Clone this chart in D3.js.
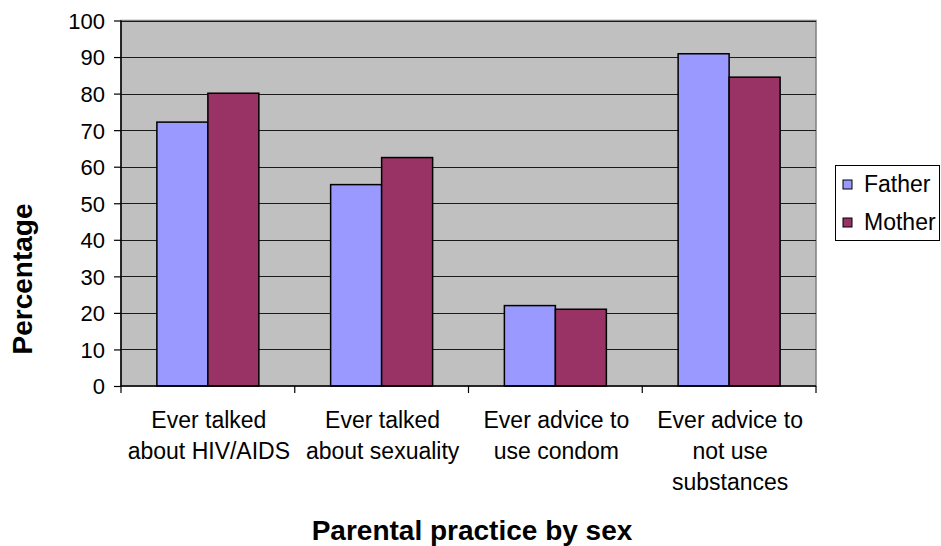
<!DOCTYPE html>
<html>
<head>
<meta charset="utf-8">
<script src="https://cdn.jsdelivr.net/npm/d3@7"></script>
<style>
  html, body { margin: 0; padding: 0; background: #fff; }
  svg { display: block; font-family: "Liberation Sans", Arial, sans-serif; }
</style>
</head>
<body>
<svg id="chart" width="941" height="546"></svg>
<script>
const categories = [
  ["Ever talked", "about HIV/AIDS"],
  ["Ever talked", "about sexuality"],
  ["Ever advice to", "use condom"],
  ["Ever advice to", "not use", "substances"]
];
const seriesNames = ["Father", "Mother"];
const fatherValues = [72.2, 55.1, 22.0, 90.9];
const motherValues = [80.1, 62.5, 21.0, 84.5];
const yTicks = [0, 10, 20, 30, 40, 50, 60, 70, 80, 90, 100];
const colors = ["#9999FF", "#993366"];
const xTitle = "Parental practice by sex";
const yTitle = "Percentage";

const svg = d3.select("#chart");
const plot = { left: 121, right: 816, top: 20.5, bottom: 386 };

const catIdx = categories.map((d, i) => i);
const x0 = d3.scaleBand().domain(catIdx).range([plot.left, plot.right]).padding(0);
const bw = x0.bandwidth();
const half = bw * 0.2935;
const x1 = d3.scaleBand().domain(seriesNames).range([bw / 2 - half, bw / 2 + half]).padding(0);
const y = d3.scaleLinear().domain([0, 100]).range([plot.bottom, plot.top]);

// plot background
svg.append("rect")
  .attr("x", plot.left).attr("y", plot.top)
  .attr("width", plot.right - plot.left).attr("height", plot.bottom - plot.top)
  .attr("fill", "#C0C0C0").attr("stroke", "#808080").attr("stroke-width", 1.5);

// gridlines
svg.append("g").selectAll("line").data(yTicks.filter(t => t > 0)).join("line")
  .attr("x1", plot.left).attr("x2", plot.right)
  .attr("y1", d => Math.round(y(d)) + 0.5).attr("y2", d => Math.round(y(d)) + 0.5)
  .attr("stroke", "#1a1a1a").attr("stroke-width", 1.2);

// bars
const data = catIdx.map(i => ({ i, vals: [fatherValues[i], motherValues[i]] }));
const groups = svg.append("g").selectAll("g").data(data).join("g")
  .attr("transform", d => `translate(${x0(d.i)},0)`);
groups.selectAll("rect").data(d => d.vals.map((v, k) => ({ v, k }))).join("rect")
  .attr("x", d => x1(seriesNames[d.k]))
  .attr("y", d => y(d.v))
  .attr("width", x1.bandwidth())
  .attr("height", d => y(0) - y(d.v))
  .attr("fill", d => colors[d.k])
  .attr("stroke", "#000").attr("stroke-width", 1.5);

// y axis
const yAxis = d3.axisLeft(y).tickValues(yTicks).tickSize(7).tickPadding(9).tickFormat(d3.format("d"));
const gy = svg.append("g").attr("transform", `translate(${plot.left},0)`).call(yAxis);
gy.select(".domain").attr("stroke", "#000").attr("stroke-width", 1.5).attr("d", `M0,${plot.top}V${plot.bottom}`);
gy.selectAll(".tick line").attr("stroke", "#000").attr("stroke-width", 1.2);
gy.selectAll(".tick text").attr("font-size", 22).attr("fill", "#000")
  .attr("font-family", "Liberation Sans, Arial, sans-serif").attr("dy", "0.36em");

// x axis
const gx = svg.append("g").attr("transform", `translate(0,${plot.bottom})`);
gx.append("line").attr("x1", plot.left).attr("x2", plot.right).attr("y1", 0).attr("y2", 0)
  .attr("stroke", "#000").attr("stroke-width", 1.5);
const boundaries = catIdx.map(i => x0(i)).concat([plot.right]);
gx.selectAll("line.tk").data(boundaries).join("line").attr("class", "tk")
  .attr("x1", d => d).attr("x2", d => d).attr("y1", 0).attr("y2", 7)
  .attr("stroke", "#000").attr("stroke-width", 1.2);

// category labels
const lab = svg.append("g").selectAll("text").data(data).join("text")
  .attr("x", d => x0(d.i) + bw / 2 + 1)
  .attr("y", 428)
  .attr("text-anchor", "middle")
  .attr("font-size", 23).attr("fill", "#000");
lab.selectAll("tspan").data(d => categories[d.i]).join("tspan")
  .attr("x", function() { return this.parentNode.getAttribute("x"); })
  .attr("dy", (d, j) => j === 0 ? 0 : 31)
  .text(d => d);

// axis titles
svg.append("text").attr("x", 472).attr("y", 540).attr("text-anchor", "middle")
  .attr("font-size", 28).attr("font-weight", "bold").attr("fill", "#000").text(xTitle);
svg.append("text").attr("transform", "translate(32,279) rotate(-90)").attr("text-anchor", "middle")
  .attr("font-size", 28).attr("font-weight", "bold").attr("fill", "#000").text(yTitle);

// legend
const lg = svg.append("g");
lg.append("rect").attr("x", 835.5).attr("y", 165.5).attr("width", 104).attr("height", 75)
  .attr("fill", "#fff").attr("stroke", "#000").attr("stroke-width", 1);
const items = lg.selectAll("g").data(seriesNames).join("g")
  .attr("transform", (d, k) => `translate(0,${k * 38})`);
items.append("rect").attr("x", 843).attr("y", 180).attr("width", 9).attr("height", 9)
  .attr("fill", (d, k) => colors[k]).attr("stroke", "#000").attr("stroke-width", 1);
items.append("text").attr("x", 864).attr("y", 192).attr("font-size", 23).attr("fill", "#000").text(d => d);
</script>
</body>
</html>
